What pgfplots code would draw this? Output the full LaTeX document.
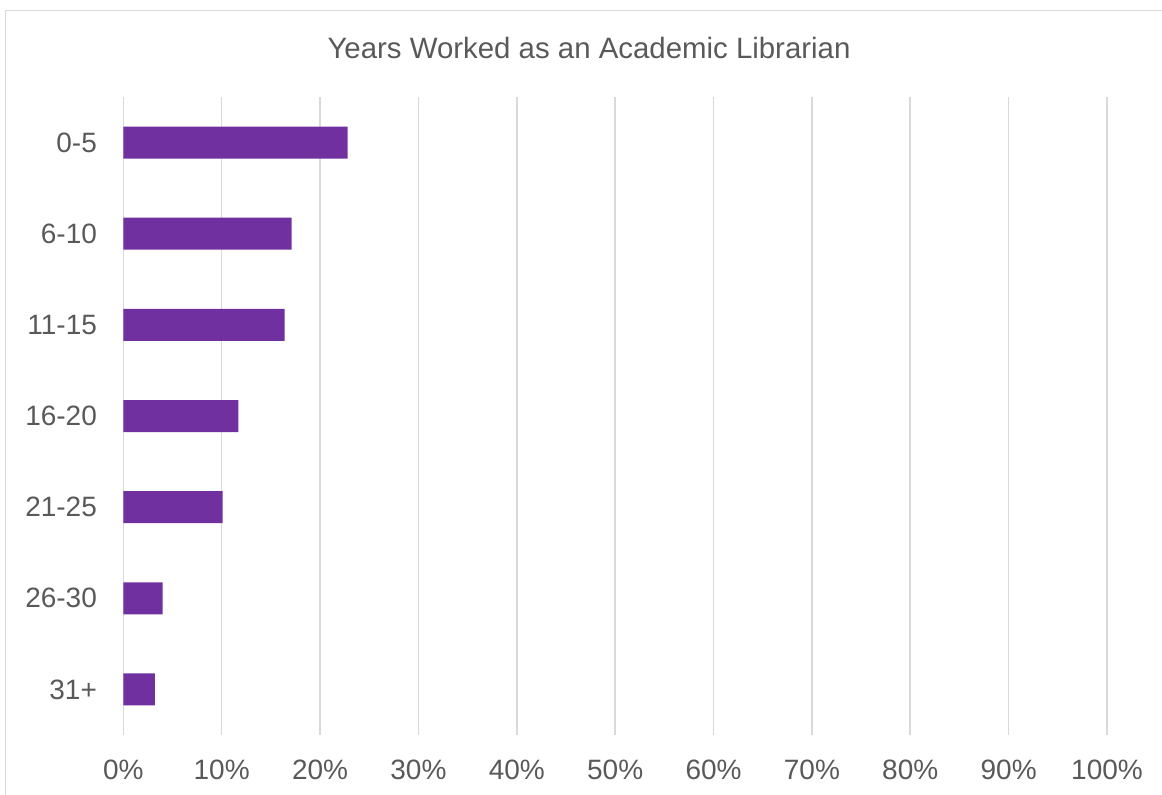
\documentclass[border=0pt]{standalone}
\usepackage{pgfplots}
\pgfplotsset{compat=1.18}
\usepackage{fontspec}
\setmainfont{Liberation Sans}
\definecolor{barpurple}{HTML}{7030A0}
\definecolor{txtgray}{HTML}{595959}
\definecolor{gridgray}{HTML}{D9D9D9}
\definecolor{framegray}{HTML}{D9D9D9}
\begin{document}
\begin{tikzpicture}
\useasboundingbox (0,0) rectangle (581pt,397.5pt);
\draw[framegray, line width=0.75pt] (2.75pt,0) -- (2.75pt,392.25pt) -- (581pt,392.25pt);
\begin{axis}[
  at={(61.65pt,30pt)}, anchor=south west,
  scale only axis,
  width=491.85pt, height=319pt,
  xbar, bar width=16pt,
  xmin=0, xmax=100,
  ymin=-0.5, ymax=6.5,
  y dir=reverse,
  xtick={0,10,...,100},
  xticklabels={0\%,10\%,20\%,30\%,40\%,50\%,60\%,70\%,80\%,90\%,100\%},
  ytick={0,...,6},
  yticklabels={0-5,6-10,11-15,16-20,21-25,26-30,31+},
  xmajorgrids,
  grid style={gridgray, line width=0.8pt},
  axis line style={draw=none},
  major tick length=0pt,
  tick label style={font=\fontsize{14}{16}\selectfont, text=txtgray},
  xticklabel style={anchor=base, inner sep=0pt, yshift=-22.5pt},
  yticklabel style={anchor=east, inner sep=0pt, xshift=-13pt},
]
\addplot[fill=barpurple, draw=none] coordinates {
  (22.8,0) (17.1,1) (16.4,2) (11.7,3) (10.1,4) (4.0,5) (3.2,6)
};
\end{axis}
\node[anchor=base, inner sep=0pt, text=txtgray, font=\fontsize{14.7}{16}\selectfont] at (294.5pt,368.3pt) {Years Worked as an Academic Librarian};
\end{tikzpicture}
\end{document}
